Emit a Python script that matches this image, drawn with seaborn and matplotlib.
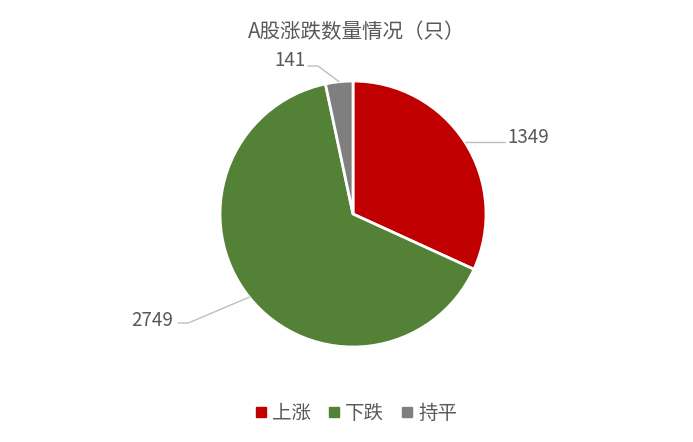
import numpy as np
import matplotlib.pyplot as plt
import seaborn as sns
from matplotlib.lines import Line2D

# 数据
categories = ["上涨", "下跌", "持平"]
counts = [1349, 2749, 141]
colors = ["#C00000", "#538135", "#7F7F7F"]
title = "A股涨跌数量情况（只）"

sns.set_theme(style="white")
plt.rcParams['font.family'] = ['Noto Sans CJK SC', 'DejaVu Sans']
text_color = "#595959"

fig = plt.figure(figsize=(6.93, 4.42), dpi=100)
ax = fig.add_axes([0.3175, 0.2149, 0.3838, 0.6018])

wedges, _ = ax.pie(
  counts,
  colors=colors,
  startangle=90,
  counterclock=False,
  radius=1,
  wedgeprops=dict(edgecolor='white', linewidth=2),
)
ax.set_xlim(-1, 1)
ax.set_ylim(-1, 1)
ax.set_aspect('equal')
ax.axis('off')

# 标签位置（引导线拐点、末端、文字位置）
layout = [
  dict(elbow=(1.143, None), end=(1.143, None), text=(1.16, 0.579), ha='left'),
  dict(elbow=(-1.24, -0.82), end=(-1.316, -0.82), text=(-1.35, -0.797), ha='right'),
  dict(elbow=(-0.263, 1.113), end=(-0.338, 1.113), text=(-0.36, 1.158), ha='right'),
]

for w, val, lay in zip(wedges, counts, layout):
  theta = np.deg2rad((w.theta1 + w.theta2) / 2)
  ex, ey = np.cos(theta), np.sin(theta)
  bx, by = lay['elbow']
  cx, cy = lay['end']
  if by is None:
    by = ey
  if cy is None:
    cy = ey
  ax.plot([ex, bx, cx], [ey, by, cy], color="#BFBFBF", lw=1, clip_on=False)
  ax.text(lay['text'][0], lay['text'][1], str(val), ha=lay['ha'], va='center',
          fontsize=13.5, color=text_color, clip_on=False)

fig.text(0.514, 0.928, title, ha='center', va='center', fontsize=14.8, color=text_color)

handles = [Line2D([], [], marker='s', linestyle='', markersize=7,
                  markerfacecolor=c, markeredgecolor=c) for c in colors]
fig.legend(handles, categories, loc='center', bbox_to_anchor=(0.512, 0.065),
           ncol=3, frameon=False, fontsize=14, handletextpad=0.1,
           columnspacing=0.75, handlelength=0.9, labelcolor=text_color)

fig.savefig("out.png", dpi=100)
plt.close()
